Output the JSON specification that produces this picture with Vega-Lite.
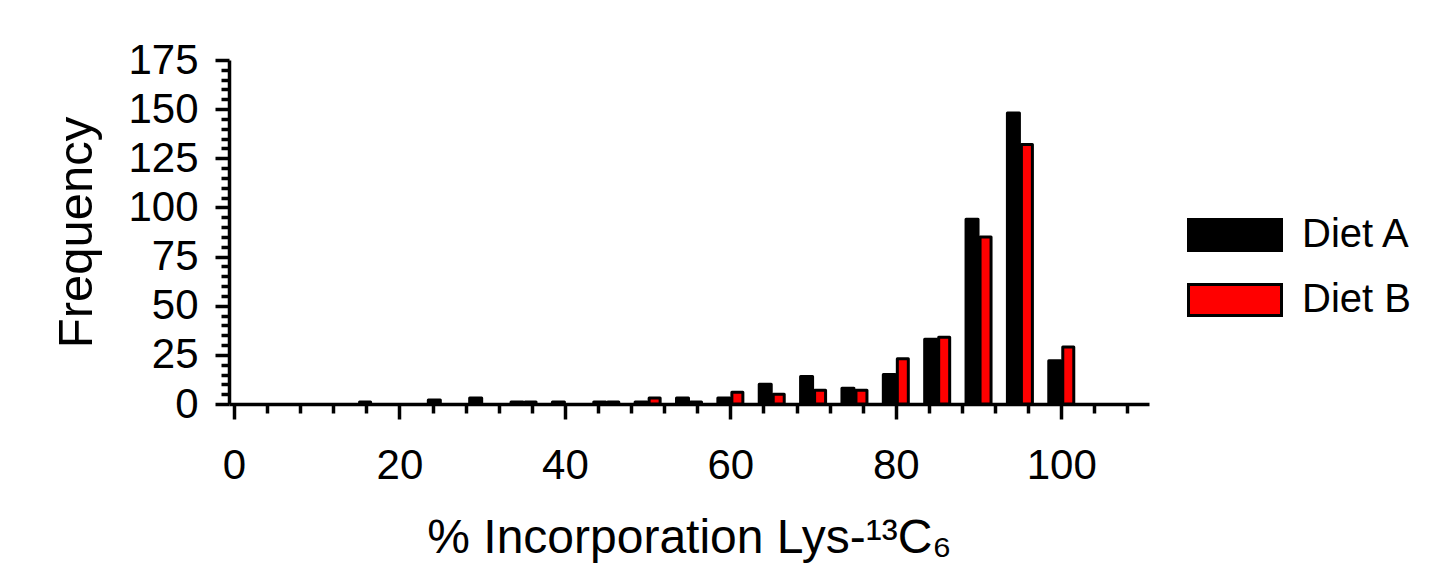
{
  "$schema": "https://vega.github.io/schema/vega-lite/v6.json",
  "width": 920,
  "height": 344,
  "autosize": {"type": "none"},
  "padding": {"left": 229, "top": 60, "right": 282, "bottom": 164},
  "background": "white",
  "config": {"view": {"stroke": null}, "font": "Liberation Sans"},
  "data": {
    "values": [
      {"pct": 25, "diet": "Diet A", "count": 2},
      {"pct": 30, "diet": "Diet A", "count": 3},
      {"pct": 35, "diet": "Diet A", "count": 1},
      {"pct": 40, "diet": "Diet A", "count": 1},
      {"pct": 45, "diet": "Diet A", "count": 1},
      {"pct": 50, "diet": "Diet A", "count": 1},
      {"pct": 55, "diet": "Diet A", "count": 3},
      {"pct": 60, "diet": "Diet A", "count": 3},
      {"pct": 65, "diet": "Diet A", "count": 10},
      {"pct": 70, "diet": "Diet A", "count": 14},
      {"pct": 75, "diet": "Diet A", "count": 8},
      {"pct": 80, "diet": "Diet A", "count": 15},
      {"pct": 85, "diet": "Diet A", "count": 33},
      {"pct": 90, "diet": "Diet A", "count": 94},
      {"pct": 95, "diet": "Diet A", "count": 148},
      {"pct": 100, "diet": "Diet A", "count": 22},
      {"pct": 15, "diet": "Diet B", "count": 1},
      {"pct": 35, "diet": "Diet B", "count": 1},
      {"pct": 45, "diet": "Diet B", "count": 1},
      {"pct": 50, "diet": "Diet B", "count": 3},
      {"pct": 55, "diet": "Diet B", "count": 1},
      {"pct": 60, "diet": "Diet B", "count": 6},
      {"pct": 65, "diet": "Diet B", "count": 5},
      {"pct": 70, "diet": "Diet B", "count": 7},
      {"pct": 75, "diet": "Diet B", "count": 7},
      {"pct": 80, "diet": "Diet B", "count": 23},
      {"pct": 85, "diet": "Diet B", "count": 34},
      {"pct": 90, "diet": "Diet B", "count": 85},
      {"pct": 95, "diet": "Diet B", "count": 132},
      {"pct": 100, "diet": "Diet B", "count": 29}
    ]
  },
  "encoding": {
    "x": {
      "field": "pct",
      "type": "quantitative",
      "scale": {"domain": [0, 110], "nice": false, "zero": false},
      "axis": {
        "values": [0,4,8,12,16,20,24,28,32,36,40,44,48,52,56,60,64,68,72,76,80,84,88,92,96,100,104,108],
        "labelExpr": "datum.value % 20 === 0 ? datum.label : ''",
        "tickSize": {"condition": {"test": "datum.value % 20 === 0", "value": 15}, "value": 9},
        "tickWidth": 3.5,
        "tickColor": "black",
        "domainWidth": 3.5,
        "domainColor": "black",
        "grid": false,
        "labelFont": "Liberation Sans",
        "labelFontSize": 42,
        "labelColor": "black",
        "labelPadding": 26,
        "labelFlush": false,
        "labelOverlap": false,
        "title": "% Incorporation Lys-¹³C₆",
        "titleFont": "Liberation Sans",
        "titleFontSize": 48,
        "titleFontWeight": "normal",
        "titleColor": "black",
        "titlePadding": 28
      }
    },
    "y": {
      "field": "count",
      "type": "quantitative",
      "scale": {"domain": [0, 175], "nice": false},
      "axis": {
        "values": [0,5,10,15,20,25,30,35,40,45,50,55,60,65,70,75,80,85,90,95,100,105,110,115,120,125,130,135,140,145,150,155,160,165,170,175],
        "labelExpr": "datum.value % 25 === 0 ? datum.label : ''",
        "tickSize": {"condition": {"test": "datum.value % 25 === 0", "value": 14}, "value": 8},
        "tickWidth": 3.5,
        "tickColor": "black",
        "domainWidth": 3.5,
        "domainColor": "black",
        "grid": false,
        "labelFont": "Liberation Sans",
        "labelFontSize": 42,
        "labelColor": "black",
        "labelPadding": 17,
        "labelFlush": false,
        "labelOverlap": false,
        "title": "Frequency",
        "titleFont": "Liberation Sans",
        "titleFontSize": 49,
        "titleFontWeight": "normal",
        "titleColor": "black",
        "titlePadding": 26
      }
    },
    "color": {
      "field": "diet",
      "type": "nominal",
      "scale": {"domain": ["Diet A", "Diet B"], "range": ["#000000", "#ff0000"]},
      "legend": {
        "title": null,
        "orient": "none",
        "legendX": 986,
        "legendY": 155,
        "padding": 0,
        "symbolType": "M-3,-1H3V1H-3Z",
        "symbolSize": 961,
        "symbolStrokeColor": "black",
        "symbolStrokeWidth": 3,
        "symbolOpacity": 1,
        "labelFont": "Liberation Sans",
        "labelFontSize": 40,
        "labelColor": "black",
        "labelOffset": 47,
        "rowPadding": 21
      }
    }
  },
  "layer": [
    {
      "transform": [{"filter": "datum.diet === 'Diet A'"}],
      "mark": {"type": "bar", "size": 12, "xOffset": -6.5, "stroke": "black", "strokeWidth": 3, "strokeJoin": "round"}
    },
    {
      "transform": [{"filter": "datum.diet === 'Diet B'"}],
      "mark": {"type": "bar", "size": 11, "xOffset": 7, "stroke": "black", "strokeWidth": 3, "strokeJoin": "round"}
    }
  ]
}
